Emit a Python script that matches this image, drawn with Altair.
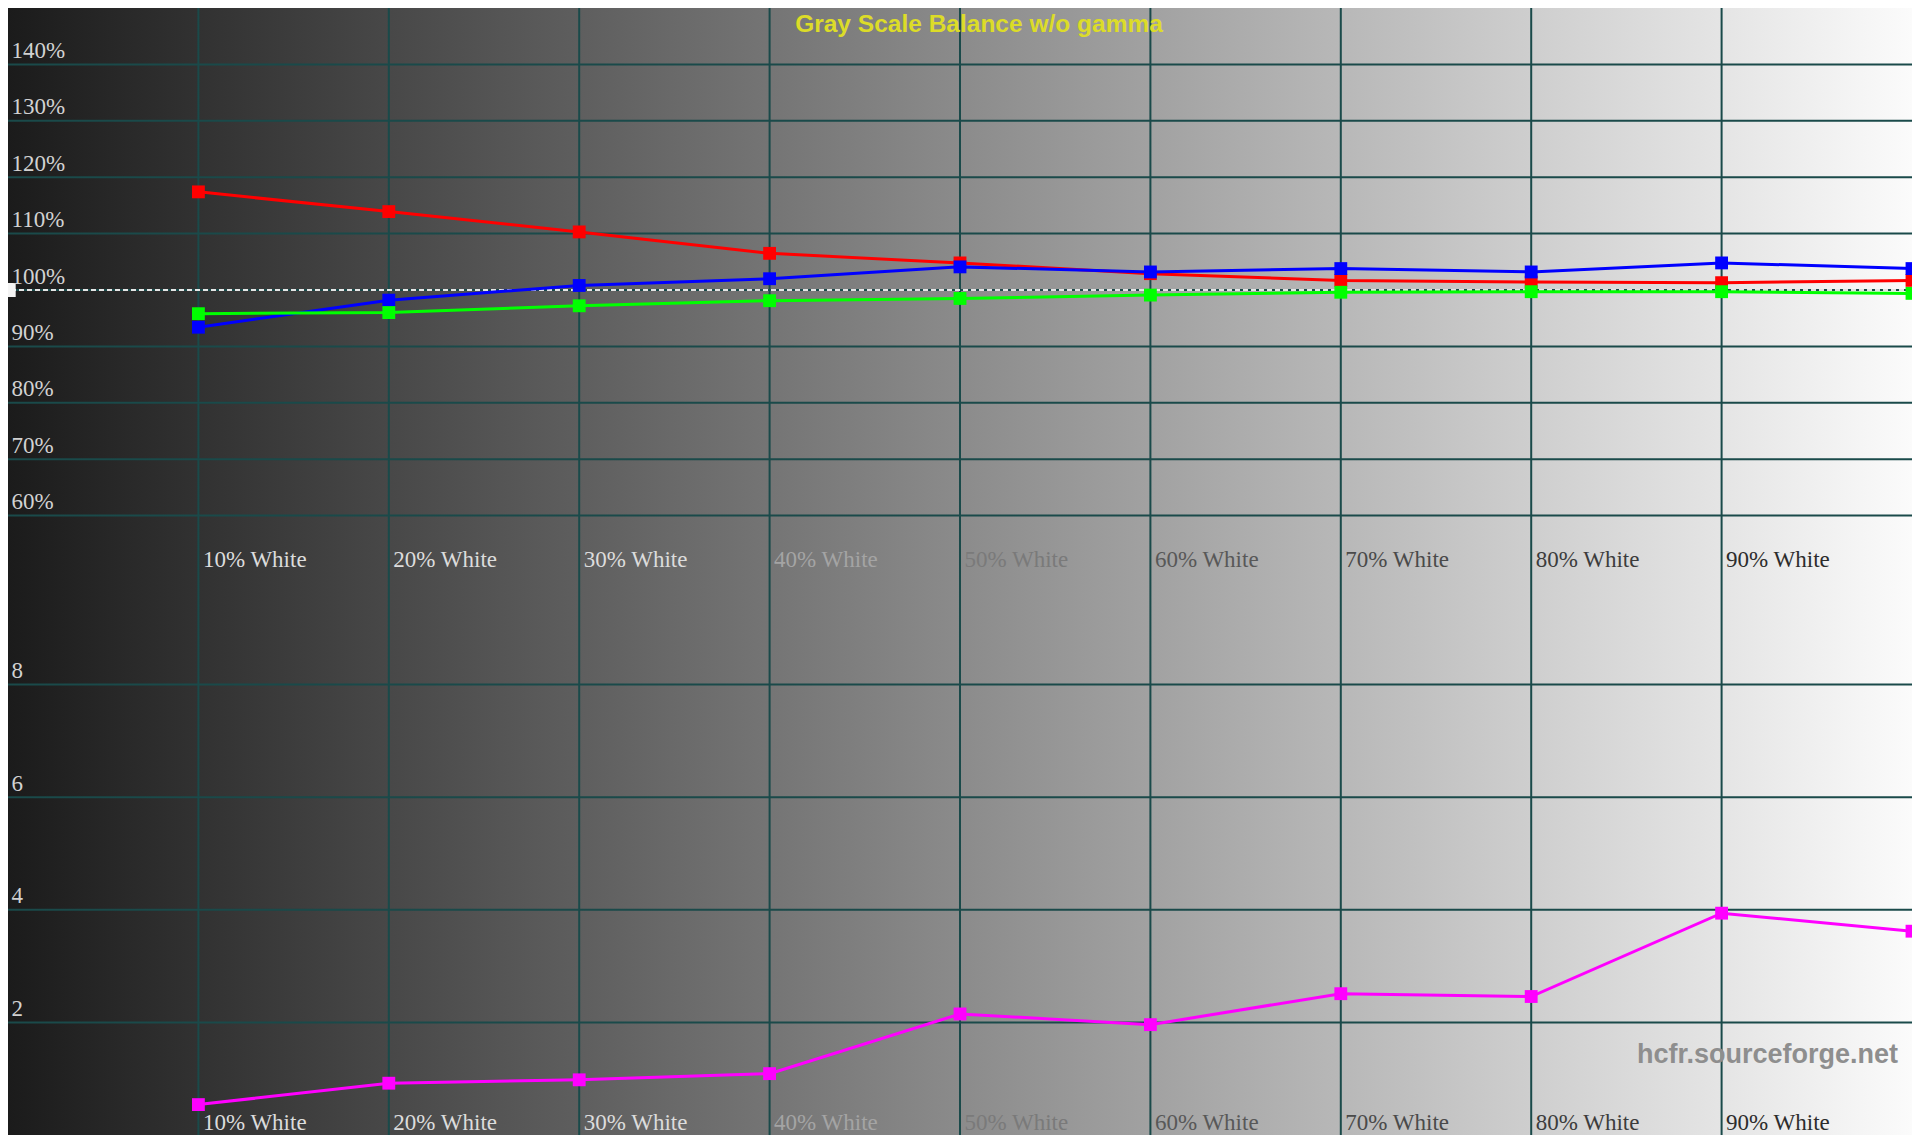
import altair as alt
import pandas as pd

# ---- data ----
pct = [10, 20, 30, 40, 50, 60, 70, 80, 90, 100]
red = [117.4, 113.9, 110.3, 106.5, 104.8, 102.9, 101.7, 101.4, 101.3, 101.7]
green = [95.8, 96.0, 97.2, 98.1, 98.5, 99.1, 99.6, 99.7, 99.7, 99.4]
blue = [93.4, 98.2, 100.8, 102.0, 104.1, 103.2, 103.8, 103.2, 104.8, 103.8]
delta_e = [0.54, 0.92, 0.98, 1.09, 2.15, 1.96, 2.51, 2.46, 3.94, 3.62]

x_ticks = [10, 20, 30, 40, 50, 60, 70, 80, 90]
pct_ticks = [60, 70, 80, 90, 100, 110, 120, 130, 140]
de_ticks = [2, 4, 6, 8]
reference_level = [100]
title_text = ["Gray Scale Balance w/o gamma"]
watermark_text = ["hcfr.sourceforge.net"]

# ---- layout / style ----
W = 1904
H = 1127
H_TOP = 564
GRID = "#1a4a4a"
SERIF = "Liberation Serif"
SANS = "Liberation Sans"

x_scale = alt.Scale(domain=[0, 100], nice=False, zero=False)
y_top_scale = alt.Scale(domain=[50, 150], range=[H_TOP, 0], nice=False, zero=False)
y_bot_scale = alt.Scale(domain=[0, 10], range=[H, H_TOP], nice=False, zero=False)

label_color_expr = (
    "datum.value <= 30 ? '#dcdcdc' : datum.value == 40 ? '#a4a4a4' : "
    "datum.value == 50 ? '#7a7a7a' : datum.value == 60 ? '#585858' : "
    "datum.value == 70 ? '#4a4a4a' : datum.value == 80 ? '#3c3c3c' : '#2c2c2c'"
)


def x_axis(offset):
    return alt.Axis(
        values=x_ticks, labelExpr="datum.value + '% White'", grid=False, domain=False,
        ticks=False, tickSize=0, labelAlign="left", labelBaseline="alphabetic",
        labelPadding=-6, labelOffset=4, labelFont=SERIF, labelFontSize=23,
        labelColor={"expr": label_color_expr}, title=None, labelOverlap=False,
        labelFlush=False, minExtent=0, maxExtent=0, zindex=1, orient="bottom",
        offset=offset,
    )


def y_axis(values, label_expr):
    return alt.Axis(
        values=values, labelExpr=label_expr, grid=False, domain=False, ticks=False,
        tickSize=0, labelAlign="left", labelBaseline="alphabetic", labelPadding=-3,
        labelOffset=-7, labelFont=SERIF, labelFontSize=23, labelColor="#d2d2d2",
        title=None, labelOverlap=False, labelFlush=False, minExtent=0, maxExtent=0,
        zindex=1, orient="left", offset=0,
    )


X_TOP = alt.X("x:Q", scale=x_scale, axis=x_axis(-(H - H_TOP)))
X_BOT = alt.X("x:Q", scale=x_scale, axis=x_axis(0))
Y_TOP = alt.Y("y:Q", scale=y_top_scale, axis=y_axis(pct_ticks, "datum.value + '%'"))
Y_BOT = alt.Y("y:Q", scale=y_bot_scale, axis=y_axis(de_ticks, "format(datum.value, 'd')"))

gradient = alt.LinearGradient(
    gradient="linear",
    stops=[alt.GradientStop(color="#1b1b1b", offset=0), alt.GradientStop(color="#fbfbfb", offset=1)],
    x1=0, x2=1, y1=0, y2=0,
)

background = alt.Chart(pd.DataFrame({"k": [0]})).mark_rect(fill=gradient).encode(
    x=alt.value(0), x2=alt.value(W), y=alt.value(0), y2=alt.value(H)
)

vgrid = alt.Chart(pd.DataFrame({"x": x_ticks})).mark_rule(color=GRID, strokeWidth=2).encode(x=X_TOP)


def hgrid(ticks, Y):
    return alt.Chart(pd.DataFrame({"y": ticks})).mark_rule(color=GRID, strokeWidth=2).encode(y=Y)


def series(values, color, X, Y):
    d = pd.DataFrame({"x": pct, "y": values})
    line = alt.Chart(d).mark_line(color=color, strokeWidth=3, clip=True).encode(x=X, y=Y)
    pts = alt.Chart(d).mark_point(
        shape="square", size=165, filled=True, color=color, opacity=1, clip=True
    ).encode(x=X, y=Y)
    return line + pts


ref_line = alt.Chart(pd.DataFrame({"y": reference_level})).mark_rule(
    color="#e6e6e6", strokeWidth=2, strokeDash=[5, 3]
).encode(y=Y_TOP)

ref_marker = alt.Chart(pd.DataFrame({"x": [0], "y": reference_level})).mark_point(
    shape="M0,-1L1.1,-1L1.1,1L0,1Z", size=196, filled=True, color="#f4f4f4", opacity=1, clip=True
).encode(x=X_TOP, y=Y_TOP)

title = alt.Chart(pd.DataFrame({"t": title_text})).mark_text(
    font=SANS, fontSize=24.5, fontWeight="bold", color="#dcdc28", align="center", baseline="alphabetic"
).encode(text="t:N", x=alt.value(971), y=alt.value(24))

watermark = alt.Chart(pd.DataFrame({"t": watermark_text})).mark_text(
    font=SANS, fontSize=27, fontWeight="bold", color="#8e8e8e", align="right", baseline="alphabetic"
).encode(text="t:N", x=alt.value(1890), y=alt.value(H_TOP + 491))

top = alt.layer(
    background,
    vgrid,
    hgrid(pct_ticks, Y_TOP),
    ref_line,
    ref_marker,
    series(red, "#ff0000", X_TOP, Y_TOP),
    series(blue, "#0000ff", X_TOP, Y_TOP),
    series(green, "#00ff00", X_TOP, Y_TOP),
    title,
)

bottom = alt.layer(
    hgrid(de_ticks, Y_BOT),
    series(delta_e, "#ff00ff", X_BOT, Y_BOT),
    watermark,
)

chart = (
    alt.layer(top, bottom)
    .resolve_scale(x="independent", y="independent")
    .resolve_axis(x="independent", y="independent")
    .properties(width=W, height=H, padding=0, autosize="none")
    .configure_view(stroke=None)
    .configure(background="white")
)

chart.save("out.html", embed_options={"renderer": "svg", "actions": False})
